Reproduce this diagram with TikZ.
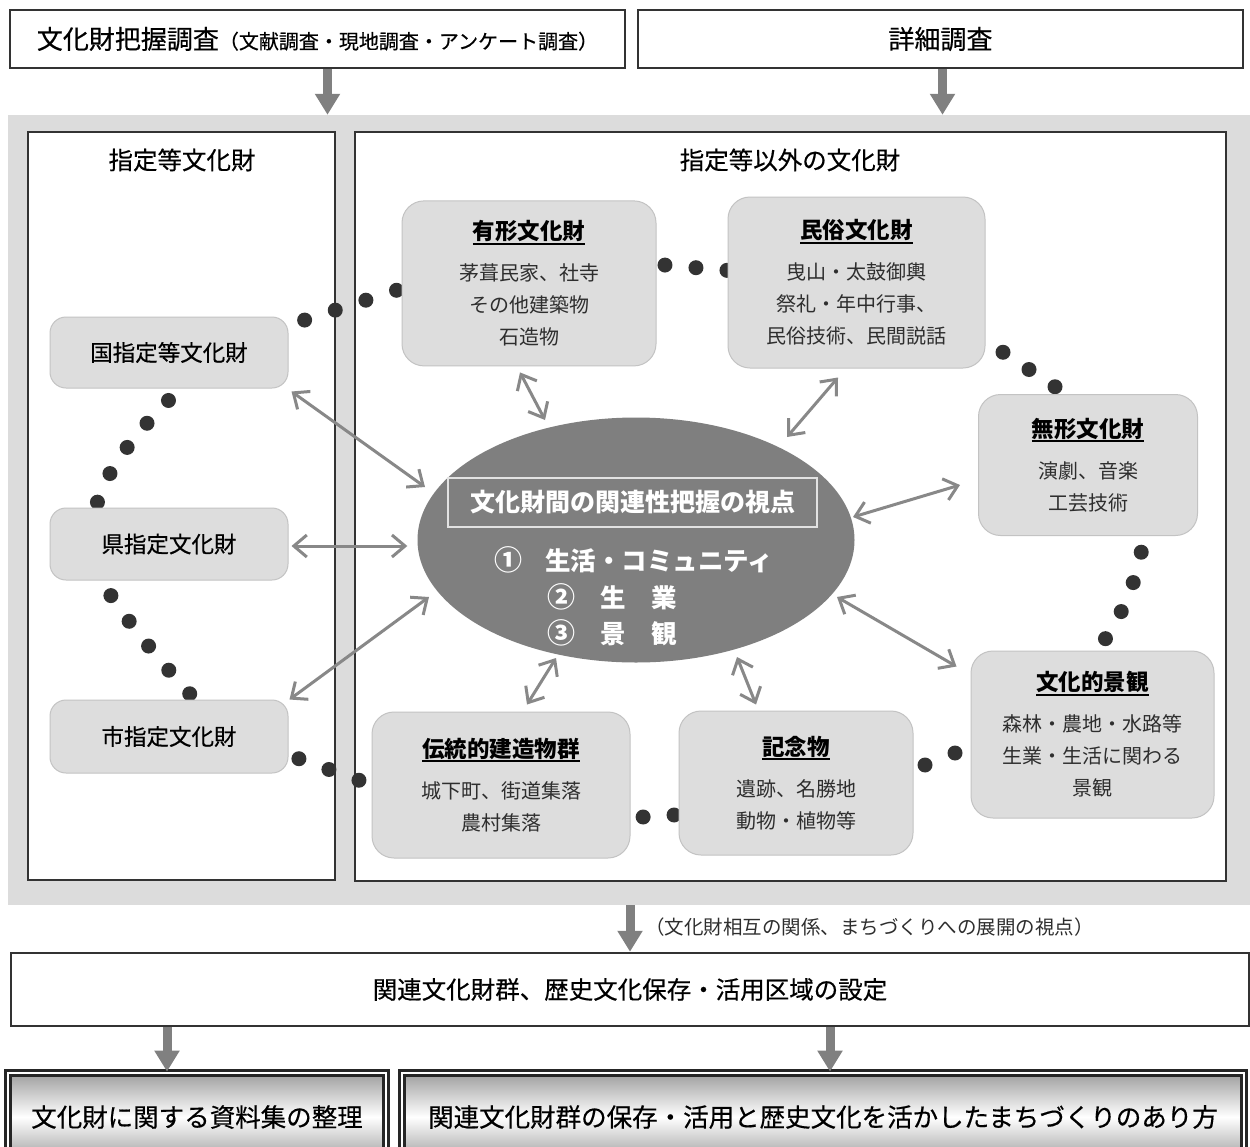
\documentclass[tikz,border=0pt]{standalone}
\usepackage{fontspec}
\setmainfont{Noto Sans CJK JP}
\newfontfamily\medfont[FakeBold=0.45]{Noto Sans CJK JP}
\usetikzlibrary{arrows.meta,shapes.geometric,calc}
\pgfdeclarelayer{back}
\pgfdeclarelayer{mid}
\pgfsetlayers{back,mid,main}
\definecolor{bggray}{HTML}{DCDCDC}
\definecolor{boxgray}{HTML}{DDDDDD}
\definecolor{boxline}{HTML}{C3C3C3}
\definecolor{darkline}{HTML}{333333}
\definecolor{dotc}{HTML}{333333}
\definecolor{fatgray}{HTML}{808080}
\definecolor{thingray}{HTML}{888888}
\definecolor{ellc}{HTML}{7F7F7F}
\definecolor{itemc}{HTML}{2E2E2E}
\definecolor{ttlline}{HTML}{E2E2E2}
\newsavebox\ulbox
\newcommand\ulttl[1]{\sbox\ulbox{#1}\rlap{\rule[-5pt]{\wd\ulbox}{2pt}}\usebox\ulbox}
\begin{document}
\begin{tikzpicture}[x=1pt,y=-1pt,
  fatarrow/.style={draw=fatgray, line width=9pt, -{Triangle[width=24pt,length=21pt]}},
  biarrow/.style={draw=thingray, line width=3pt, {Straight Barb[length=13pt,width=22pt]}-{Straight Barb[length=13pt,width=22pt]}},
  dotchain/.style={draw=dotc, line width=15pt, line cap=round, dash pattern=on 0pt off #1},
  dotchain/.default=31pt,
  topbox/.style={draw=darkline, line width=2.5pt, fill=white, inner sep=0pt},
  panelbox/.style={draw=darkline, line width=2.5pt, fill=white, inner sep=0pt},
  softbox/.style={draw=boxline, fill=boxgray, line width=1pt, inner sep=0pt, align=center, rounded corners=#1},
  softbox/.default=18pt,
  itembox/.style={softbox=22pt, text=itemc, font=\fontsize{20}{32}\selectfont},
  sidebox/.style={softbox=16pt, font=\medfont\fontsize{22.5}{27}\selectfont},
  finalbox/.style={draw=black!85, line width=2.8pt, double=white, double distance=2.6pt,
     top color=black!38, bottom color=black!38, middle color=white, inner sep=0pt,
     font=\medfont\fontsize{25.5}{30}\selectfont},
  etext/.style={text=white, font=\bfseries\fontsize{25.5}{30}\selectfont, inner sep=0pt}
]
\useasboundingbox (0,0) rectangle (1250,1146);

% ---------- background and panels ----------
\begin{pgfonlayer}{back}
  \node[fill=bggray, minimum width=1254pt, minimum height=790pt, inner sep=0pt] (bg) at (635,510) {};
  \node[panelbox, minimum width=307pt, minimum height=748pt] (lp) at (181.5,506) {};
  \node[panelbox, minimum width=871pt, minimum height=749pt] (rp) at (790.5,506.5) {};
\end{pgfonlayer}
\node[font=\medfont\fontsize{24.5}{28}\selectfont] (lpt) at (182,160) {指定等文化財};
\node[font=\medfont\fontsize{24.5}{28}\selectfont] (rpt) at (790,160) {指定等以外の文化財};

% ---------- top boxes ----------
\node[topbox, minimum width=615pt, minimum height=58pt, font=\medfont] (t1) at (317.5,39)
  {{\fontsize{26}{30}\selectfont 文化財把握調査}{\fontsize{20}{24}\selectfont （文献調査・現地調査・アンケート調査）}};
\node[topbox, minimum width=605pt, minimum height=58pt, font=\medfont\fontsize{26}{30}\selectfont] (t2) at (940.5,39) {詳細調査};
\draw[fatarrow] ([xshift=10pt]t1.south) -- ([xshift=10pt]t1.south |- bg.north);
\draw[fatarrow] ([xshift=2pt]t2.south) -- ([xshift=2pt]t2.south |- bg.north);

% ---------- left boxes ----------
\node[sidebox, minimum width=238pt, minimum height=71pt] (guo) at (169,352.5) {国指定等文化財};
\node[sidebox, minimum width=238pt, minimum height=72pt] (ken) at (169,544) {県指定文化財};
\node[sidebox, minimum width=238pt, minimum height=73pt] (shi) at (169,736.5) {市指定文化財};

% ---------- category boxes ----------
\node[itembox, minimum width=254pt, minimum height=165pt] (yk) at (529,283.4)
  {{\color{black}\bfseries\fontsize{22.5}{32}\selectfont\ulttl{有形文化財}}\\[9pt]茅葺民家、社寺\\その他建築物\\石造物};
\node[itembox, minimum width=257pt, minimum height=171pt] (mz) at (856.5,282.5)
  {{\color{black}\bfseries\fontsize{22.5}{32}\selectfont\ulttl{民俗文化財}}\\[9pt]曳山・太鼓御輿\\祭礼・年中行事、\\民俗技術、民間説話};
\node[itembox, minimum width=219pt, minimum height=141pt] (muk) at (1088,465)
  {{\color{black}\bfseries\fontsize{22.5}{32}\selectfont\ulttl{無形文化財}}\\[9pt]演劇、音楽\\工芸技術};
\node[itembox, minimum width=243pt, minimum height=167pt] (kei) at (1092.5,734.5)
  {{\color{black}\bfseries\fontsize{22.5}{32}\selectfont\ulttl{文化的景観}}\\[9pt]森林・農地・水路等\\生業・生活に関わる\\景観};
\node[itembox, minimum width=234pt, minimum height=144pt] (kin) at (796,783)
  {{\color{black}\bfseries\fontsize{22.5}{32}\selectfont\ulttl{記念物}}\\[9pt]遺跡、名勝地\\動物・植物等};
\node[itembox, minimum width=258pt, minimum height=146pt] (den) at (501,785)
  {{\color{black}\bfseries\fontsize{22.5}{32}\selectfont\ulttl{伝統的建造物群}}\\[9pt]城下町、街道集落\\農村集落};

% ---------- central ellipse ----------
\node[ellipse, fill=ellc, minimum width=437pt, minimum height=245pt, inner sep=0pt] (ell) at (636,540) {};
\node[draw=ttlline, line width=1.3pt, minimum width=369pt, minimum height=49pt, text=white,
      font=\bfseries\fontsize{25}{30}\selectfont, inner sep=0pt] (ettl) at (632.5,502.5) {文化財間の関連性把握の視点};
\node[etext, anchor=west] (e1) at (494,560) {{\fontsize{28}{30}\selectfont ①}\hspace{0.9em}生活・コミュニティ};
\node[etext, anchor=west] (e2) at (547,597) {{\fontsize{28}{30}\selectfont ②}\hspace{1em}生\hspace{1em}業};
\node[etext, anchor=west] (e3) at (547,633) {{\fontsize{28}{30}\selectfont ③}\hspace{1em}景\hspace{1em}観};

% ---------- dotted ring ----------
\begin{pgfonlayer}{mid}
  \draw[dotchain=32.2pt] ($(guo.center)+(105,-22.5)$) -- ($(yk.center)+(-102,-3)$);
  \draw[dotchain=31.1pt] ($(yk.center)+(105,-21)$) -- ($(mz.center)+(-98.5,-9.5)$);
  \draw[dotchain=31.2pt] ($(mz.center)+(120.5,52.5)$) -- ($(muk.center)+(-7,-61)$);
  \draw[dotchain=31.4pt] ($(muk.center)+(56,56)$) .. controls +(1,54) and +(27,-22) .. ($(kei.center)+(-7.5,-72.5)$);
  \draw[dotchain=32.3pt] ($(kei.center)+(-107.5,6.5)$) -- ($(kin.center)+(99,-6)$);
  \draw[dotchain=31pt] ($(kin.center)+(-91,30)$) -- ($(den.center)+(111,34)$);
  \draw[dotchain=31.9pt] ($(den.center)+(-112,6)$) -- ($(shi.center)+(100,11.5)$);
  \draw[dotchain=31.5pt] ($(shi.center)+(43,-20.5)$) .. controls +(-22,-18) and +(4,25) .. ($(ken.center)+(-71,26)$);
  \draw[dotchain=31.3pt] ($(ken.center)+(-76,-11)$) .. controls +(-2,-60) and +(-35,35) .. ($(guo.center)+(22,25.5)$);
\end{pgfonlayer}

% ---------- double arrows ----------
\draw[biarrow] ($(guo.south east)+(3,3)$) -- ($(ell.center)+(-211,-53)$);
\draw[biarrow] ($(ken.east)+(3,2)$) -- ($(ell.west)+(-10,6)$);
\draw[biarrow] ($(shi.north east)+(1,0)$) -- ($(ell.center)+(-207,57)$);
\draw[biarrow] ($(yk.south)+(-9,6)$) -- ($(ell.center)+(-91,-120)$);
\draw[biarrow] ($(mz.south)+(-18.5,9)$) -- ($(ell.center)+(151,-103)$);
\draw[biarrow] ($(muk.west)+(-18,20)$) -- ($(ell.center)+(217,-23)$);
\draw[biarrow] ($(kei.north west)+(-14,16)$) -- ($(ell.center)+(201,57)$);
\draw[biarrow] ($(den.north)+(26,-7)$) -- ($(ell.center)+(-80,118)$);
\draw[biarrow] ($(kin.north)+(-40,-6)$) -- ($(ell.center)+(101,117)$);

% ---------- lower part ----------
\node[topbox, minimum width=1238pt, minimum height=73pt, font=\medfont\fontsize{24.5}{28}\selectfont] (mb) at (630,989.5)
  {関連文化財群、歴史文化保存・活用区域の設定};
\draw[fatarrow] (mb.north |- bg.south) -- (mb.north);
\node[anchor=west, font=\fontsize{19.5}{24}\selectfont, text=itemc, inner sep=0pt] (note) at (645,927)
  {（文化財相互の関係、まちづくりへの展開の視点）};

\node[finalbox, minimum width=378pt, minimum height=88pt] (f1) at (197,1117) {文化財に関する資料集の整理};
\node[finalbox, minimum width=842pt, minimum height=88pt] (f2) at (823,1117) {関連文化財群の保存・活用と歴史文化を活かしたまちづくりのあり方};
\draw[fatarrow] (f1.north |- mb.south) ++(-30,0) coordinate (a1s) -- (a1s |- f1.north);
\draw[fatarrow] (f2.north |- mb.south) ++(7,0) coordinate (a2s) -- (a2s |- f2.north);
\end{tikzpicture}
\end{document}
